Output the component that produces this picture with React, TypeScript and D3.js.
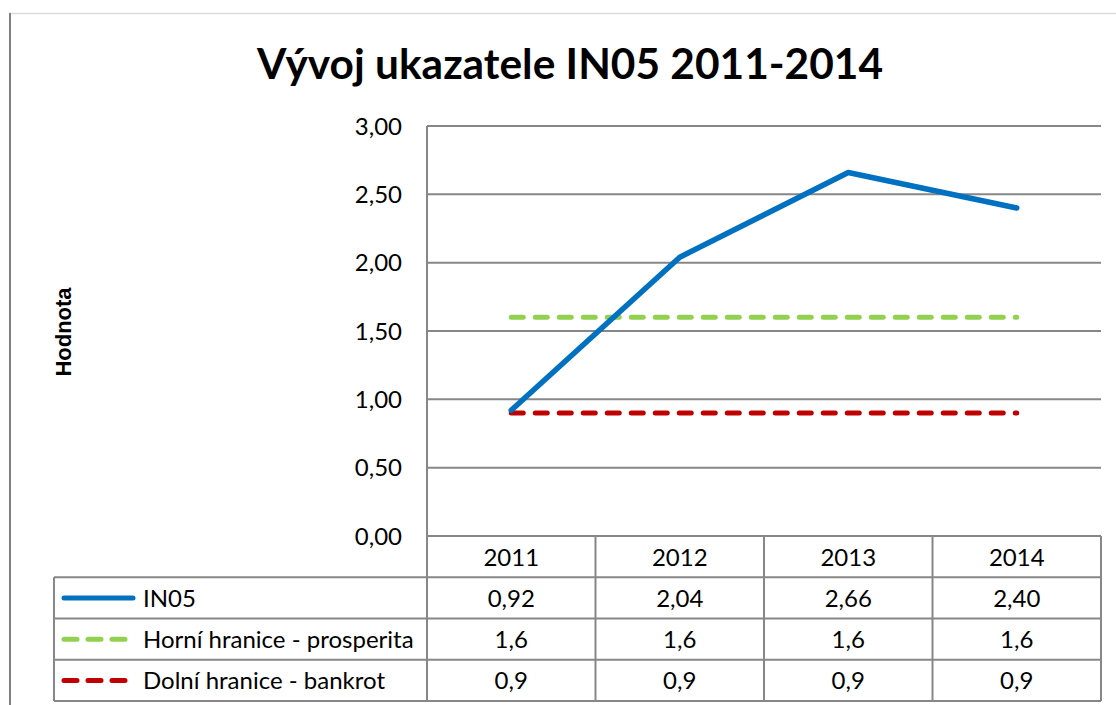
import React from "react";
import * as d3 from "d3";

const years = ["2011", "2012", "2013", "2014"];
const in05 = [0.92, 2.04, 2.66, 2.4];
const upper = [1.6, 1.6, 1.6, 1.6];
const lower = [0.9, 0.9, 0.9, 0.9];
const yTicks = [0, 0.5, 1, 1.5, 2, 2.5, 3];

const seriesNames = ["IN05", "Horní hranice - prosperita", "Dolní hranice - bankrot"];
const seriesValues = [in05, upper, lower];
const seriesDecimals = [2, 1, 1];
const seriesColors = ["#0070C0", "#92D050", "#C00000"];
const seriesDashed = [false, true, true];

const title = "Vývoj ukazatele IN05 2011-2014";
const yTitle = "Hodnota";

const W = 1116;
const H = 705;
const plotLeft = 427;
const plotRight = 1101;
const plotTop = 126;
const plotBottom = 536;
const rowH = 41.25;
const legendLeft = 54;
const grid = "#878787";
const FONT = "Lato, 'Open Sans', sans-serif";
const FS = 24;

const fmt = (v: number, d: number) => v.toFixed(d).replace(".", ",");

export default function App() {
  const x = d3.scaleBand<string>().domain(years).range([plotLeft, plotRight]).padding(0);
  const y = d3.scaleLinear().domain([0, 3]).range([plotBottom, plotTop]);
  const cx = (yr: string) => (x(yr) as number) + x.bandwidth() / 2;
  const line = d3
    .line<number>()
    .x((_, i) => cx(years[i]))
    .y((v) => y(v));

  const rowTop = (r: number) => plotBottom + r * rowH; // r=0 header
  const tableBottom = rowTop(4);

  return (
    <svg
      width={W}
      height={H}
      style={{ position: "absolute", left: 0, top: 0, background: "#fff" }}
    >
      <rect x={0} y={0} width={W} height={H} fill="#fff" />
      {/* chart border */}
      <line x1={10} x2={W} y1={13.5} y2={13.5} stroke="#dcdcdc" strokeWidth={1.5} />
      <line x1={10} x2={10} y1={13} y2={H} stroke="#808080" strokeWidth={2} />

      {/* title */}
      <text
        x={570}
        y={79}
        textAnchor="middle"
        fontFamily={FONT}
        fontWeight={700}
        fontSize={42}
        textLength={626}
        lengthAdjust="spacingAndGlyphs"
        fill="#000"
      >
        {title}
      </text>

      {/* y axis title */}
      <text
        transform={`translate(71,332) rotate(-90)`}
        textAnchor="middle"
        fontFamily="'Liberation Sans', Arial, sans-serif"
        fontWeight={700}
        fontSize={22}
        fill="#000"
      >
        {yTitle}
      </text>

      {/* gridlines and ticks */}
      {yTicks.map((t) => (
        <g key={t}>
          <line x1={plotLeft} x2={plotRight} y1={y(t)} y2={y(t)} stroke={grid} strokeWidth={2} />
          <text
            x={402}
            y={y(t) + 8.5}
            textAnchor="end"
            fontFamily={FONT}
            fontSize={FS}
            fill="#000"
          >
            {fmt(t, 2)}
          </text>
        </g>
      ))}
      {/* axis line */}
      <line x1={plotLeft} x2={plotLeft} y1={plotTop} y2={tableBottom} stroke={grid} strokeWidth={2} />

      {/* data table */}
      {[1, 2, 3, 4].map((r) => (
        <line
          key={r}
          x1={legendLeft}
          x2={plotRight}
          y1={rowTop(r)}
          y2={rowTop(r)}
          stroke={grid}
          strokeWidth={2}
        />
      ))}
      <line x1={legendLeft} x2={legendLeft} y1={rowTop(1)} y2={tableBottom} stroke={grid} strokeWidth={2} />
      {years.map((yr) => (
        <line
          key={yr}
          x1={(x(yr) as number) + x.bandwidth()}
          x2={(x(yr) as number) + x.bandwidth()}
          y1={plotBottom}
          y2={tableBottom}
          stroke={grid}
          strokeWidth={2}
        />
      ))}
      {years.map((yr) => (
        <text
          key={yr}
          x={cx(yr)}
          y={rowTop(0) + rowH / 2 + 9.5}
          textAnchor="middle"
          fontFamily={FONT}
          fontSize={FS}
          fill="#000"
        >
          {yr}
        </text>
      ))}
      {seriesNames.map((name, s) => {
        const mid = rowTop(s + 1) + rowH / 2;
        return (
          <g key={name}>
            <line
              x1={64}
              x2={133}
              y1={mid}
              y2={mid}
              stroke={seriesColors[s]}
              strokeWidth={5}
              strokeLinecap="round"
              strokeDasharray={seriesDashed[s] ? "13,11" : undefined}
            />
            <text x={143} y={mid + 9} fontFamily={FONT} fontSize={FS} fill="#000">
              {name}
            </text>
            {years.map((yr, i) => (
              <text
                key={yr}
                x={cx(yr)}
                y={mid + 9}
                textAnchor="middle"
                fontFamily={FONT}
                fontSize={FS}
                fill="#000"
              >
                {fmt(seriesValues[s][i], seriesDecimals[s])}
              </text>
            ))}
          </g>
        );
      })}

      {/* series lines */}
      {seriesValues
        .map((vals, s) => (
          <path
            key={s}
            d={line(vals) || ""}
            fill="none"
            stroke={seriesColors[s]}
            strokeWidth={s === 0 ? 5.5 : 5}
            strokeLinecap="round"
            strokeLinejoin="round"
            strokeDasharray={seriesDashed[s] ? "12,12" : undefined}
          />
        ))
        .reverse()}
    </svg>
  );
}
